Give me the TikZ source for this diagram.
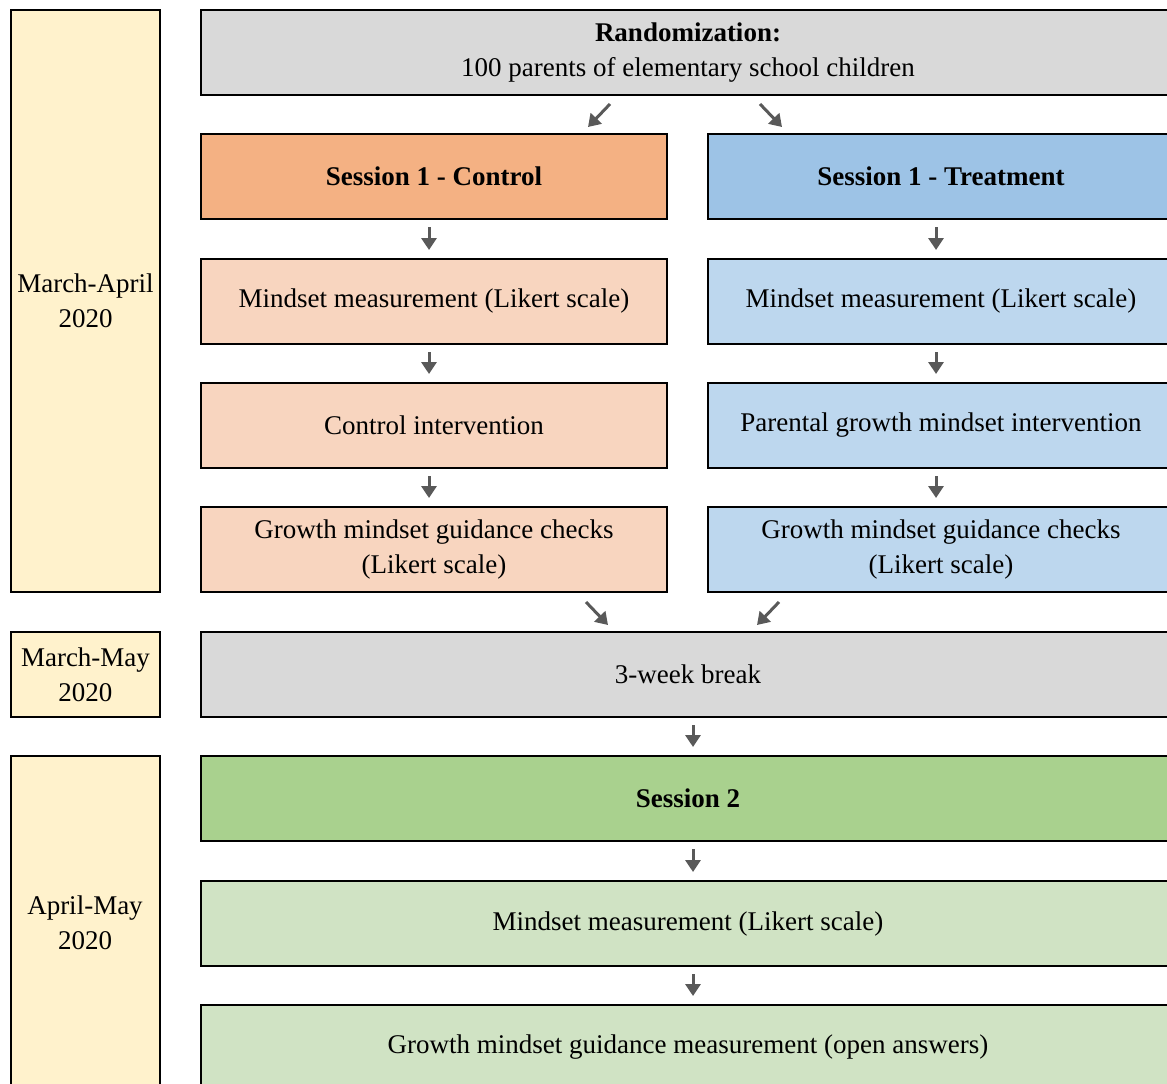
\documentclass[tikz,border=0pt]{standalone}
\usepackage{fontspec}
\setmainfont{Liberation Serif}
\usetikzlibrary{arrows.meta}

\definecolor{datefill}{HTML}{FFF2CC}
\definecolor{grayfill}{HTML}{D9D9D9}
\definecolor{ctrlhead}{HTML}{F4B183}
\definecolor{ctrlbody}{HTML}{F8D5BF}
\definecolor{treathead}{HTML}{9DC3E6}
\definecolor{treatbody}{HTML}{BDD7EE}
\definecolor{s2head}{HTML}{A9D18E}
\definecolor{s2body}{HTML}{D0E3C4}
\definecolor{arrowgray}{HTML}{595959}

\tikzset{
  label text/.style={align=center, font=\fontsize{27}{35}\selectfont},
  box/.style={draw=black, line width=2, rectangle, anchor=north west,
    inner sep=0, label text},
  datebox/.style={box, fill=datefill, minimum width=149},
  halfbox/.style={box, minimum width=466, minimum height=85},
  widebox/.style={box, minimum width=974, minimum height=85},
  flow/.style={draw=arrowgray, line width=3,
    -{Triangle[length=12,width=15]}},
}

\begin{document}
\begin{tikzpicture}[x=1pt, y=-1pt]
\useasboundingbox (0,0) rectangle (1167,1084);
\clip (0,0) rectangle (1167,1084);

% timeline boxes
\node[datebox, minimum height=582] (d1) at (10,9) {March-April\\2020};
\node[datebox, minimum height=85] (d2) at (10,631) {March-May\\2020};
\node[datebox, minimum height=420] (d3) at (10,755) {};
\node[label text] (d3t) at (85,923) {April-May\\2020};

% randomization
\node[widebox, fill=grayfill] (rand) at (200,9)
  {\textbf{Randomization:}\\100 parents of elementary school children};

% session 1, control arm
\node[halfbox, fill=ctrlhead] (c1) at (200,133) {\textbf{Session 1 - Control}};
\node[halfbox, fill=ctrlbody] (c2) at (200,258) {Mindset measurement (Likert scale)};
\node[halfbox, fill=ctrlbody] (c3) at (200,382) {Control intervention};
\node[halfbox, fill=ctrlbody] (c4) at (200,506) {Growth mindset guidance checks\\(Likert scale)};

% session 1, treatment arm
\node[halfbox, fill=treathead] (t1) at (707,133) {\textbf{Session 1 - Treatment}};
\node[halfbox, fill=treatbody] (t2) at (707,258) {Mindset measurement (Likert scale)};
\node[halfbox, fill=treatbody] (t3) at (707,382) {Parental growth mindset intervention};
\node[halfbox, fill=treatbody] (t4) at (707,506) {Growth mindset guidance checks\\(Likert scale)};

% break and session 2
\node[widebox, fill=grayfill] (brk) at (200,631) {3-week break};
\node[widebox, fill=s2head] (s1) at (200,755) {\textbf{Session 2}};
\node[widebox, fill=s2body] (s2) at (200,880) {Mindset measurement (Likert scale)};
\node[widebox, fill=s2body] (s3) at (200,1004) {Growth mindset guidance measurement (open answers)};

% split and merge arrows
\coordinate (splitLa) at (610,104);
\coordinate (splitLb) at (588,127);
\coordinate (splitRa) at (760,104);
\coordinate (splitRb) at (782,127);
\coordinate (mergeLa) at (586,602);
\coordinate (mergeLb) at (608,625);
\coordinate (mergeRa) at (779,602);
\coordinate (mergeRb) at (757,625);
\draw[flow] (splitLa) -- (splitLb);
\draw[flow] (splitRa) -- (splitRb);
\draw[flow] (mergeLa) -- (mergeLb);
\draw[flow] (mergeRa) -- (mergeRb);

% vertical steps
\foreach \a/\b in {c1/c2, c2/c3, c3/c4} {
  \draw[flow, shorten <=7, shorten >=8] ([xshift=-5]\a.south) -- ([xshift=-5]\b.north);
}
\foreach \a/\b in {t1/t2, t2/t3, t3/t4} {
  \draw[flow, shorten <=7, shorten >=8] ([xshift=-5]\a.south) -- ([xshift=-5]\b.north);
}
\foreach \a/\b in {brk/s1, s1/s2, s2/s3} {
  \draw[flow, shorten <=7, shorten >=8] ([xshift=5]\a.south) -- ([xshift=5]\b.north);
}
\end{tikzpicture}
\end{document}
